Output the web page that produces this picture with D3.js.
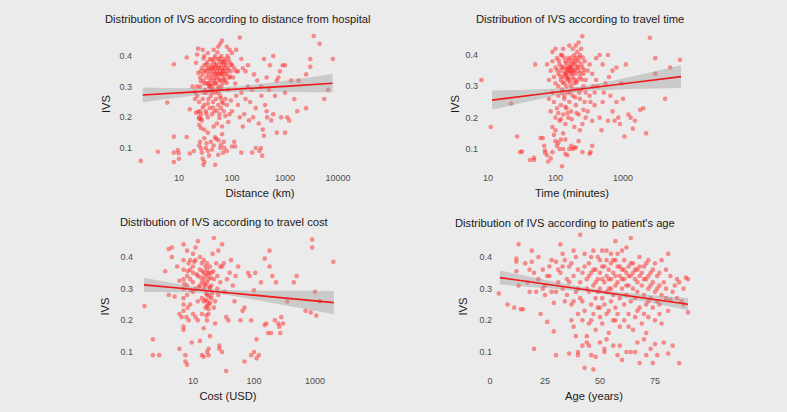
<!DOCTYPE html>
<html>
<head>
<meta charset="utf-8">
<script src="https://cdn.jsdelivr.net/npm/d3@7"></script>
<style>
  html, body { margin: 0; padding: 0; background: #ebebeb; }
  svg { display: block; font-family: 'Liberation Sans', Arial, sans-serif; }
</style>
</head>
<body>
<div id="chart"></div>
<script>
// ---- data: [x, IVS] ----
const distancePts = [
  [1.9,.058],[4,.088],[6,.248],[8,.373],[8,.137],[8,.085],[8,.054],[9.5,.093],[9.8,.083],[10,.065],
  [14,.395],[14,.136],[16,.226],[16,.082],[19,.09],[18,.3],[20,.283],[21,.378],[22,.405],[23,.424],
  [22,.3],[20,.26],[21,.215],[24,.2],[24,.195],[25,.12],[24,.108],[26,.098],[27,.085],[28,.065],
  [29,.045],[30,.055],[32,.1],[33,.115],[35,.09],[37,.075],[40,.12],[45,.108],[48,.135],[50,.13],
  [55,.078],[60,.1],[62,.11],[68,.085],[70,.12],[72,.1],[100,.105],[110,.12],[115,.105],[150,.085],
  [240,.085],[280,.1],[330,.09],[370,.075],[350,.1],
  [25,.33],[26,.35],[27,.36],[28,.34],[29,.32],[30,.37],[30,.31],[31,.29],[32,.35],[33,.33],
  [34,.38],[35,.36],[35,.31],[36,.34],[37,.30],[38,.39],[39,.35],[40,.33],[40,.37],[41,.31],
  [42,.36],[43,.34],[44,.29],[45,.38],[45,.35],[46,.32],[47,.36],[48,.40],[49,.34],[50,.31],
  [50,.37],[52,.35],[53,.33],[54,.39],[55,.36],[56,.30],[57,.34],[58,.38],[60,.35],[60,.32],
  [62,.37],[63,.40],[64,.34],[65,.36],[66,.31],[68,.38],[70,.35],[70,.33],[72,.39],[74,.36],
  [75,.32],[78,.37],[80,.34],[82,.40],[85,.36],[88,.33],[90,.38],[95,.35],[100,.37],[105,.33],
  [110,.36],[120,.35],[60,.44],[65,.45],[55,.43],[80,.43],[90,.42],[140,.46],[45,.42],[35,.41],
  [28,.42],[30,.40],[100,.41],[120,.42],[150,.39],[160,.36],[180,.35],[200,.37],
  [22,.27],[24,.25],[25,.22],[26,.21],[27,.19],[28,.26],[30,.24],[32,.22],[33,.28],[35,.20],
  [36,.26],[38,.23],[40,.27],[42,.21],[44,.25],[46,.22],[48,.28],[50,.26],[52,.18],[55,.24],
  [58,.21],[60,.27],[62,.23],[65,.25],[70,.22],[75,.26],[80,.24],[85,.29],[90,.21],[30,.16],
  [35,.15],[45,.17],[65,.17],[55,.28],[40,.29],[30,.28],[25,.30],
  [120,.27],[130,.24],[140,.2],[150,.28],[160,.17],[170,.21],[180,.26],[200,.3],[210,.19],[220,.25],
  [240,.29],[250,.2],[260,.34],[280,.23],[300,.32],[320,.18],[350,.3],[360,.27],[380,.16],[400,.39],
  [400,.14],[420,.24],[450,.33],[460,.2],[500,.29],[520,.37],[550,.19],[600,.4],[650,.27],[700,.15],
  [750,.33],[800,.35],[850,.2],[900,.37],[1000,.15],[1000,.28],[1100,.2],[1200,.19],[1300,.32],[1500,.26],
  [1700,.22],[1800,.32],[2500,.23],[2500,.34],[3000,.365],[3000,.39],[3500,.465],[4500,.44],[5500,.26],[6500,.29],
  [8000,.39],[450,.22],[600,.21],[700,.32],[1000,.37],
  [23,.345],[26,.318],[29,.392],[31,.352],[33,.372],[34,.312],[37,.358],[39,.322],[41,.388],[43,.302],
  [44,.362],[46,.392],[47,.328],[49,.372],[51,.342],[53,.412],[56,.362],[57,.322],[59,.392],[61,.342],
  [63,.298],[66,.382],[67,.352],[69,.322],[71,.372],[73,.342],[76,.382],[79,.312],[83,.352],[86,.392],
  [92,.332],[97,.372],[38,.302],[42,.282],[48,.312],[54,.292],[62,.262],[28,.232],[33,.212],[44,.232],
  [52,.222],[75,.205],[95,.255],[115,.31],[130,.35],[23,.218],[26,.195],[35,.245],[58,.198],[68,.245],
  [85,.185],[100,.22],[30,.132],[42,.095],[56,.125],[80,.09],[24,.175],[26,.165],[65,.145],[48,.045]
];

const timePts = [
  [8,.32],[11,.17],[22,.245],[27,.14],[30,.09],[32,.092],[42,.065],[48,.065],[48,.072],[50,.37],
  [60,.135],[65,.135],[68,.11],[70,.095],[70,.088],[75,.08],[78,.06],[85,.07],[90,.09],[100,.125],
  [105,.11],[110,.12],[115,.1],[120,.13],[125,.045],[130,.1],[140,.085],[150,.08],[160,.1],[170,.11],
  [180,.1],[190,.105],[200,.105],[220,.125],[250,.09],[320,.085],[330,.09],[350,.11],
  [75,.37],[80,.32],[85,.35],[90,.41],[90,.38],[95,.33],[100,.36],[100,.31],[105,.39],[110,.34],
  [110,.30],[115,.37],[120,.32],[120,.35],[125,.40],[130,.33],[130,.36],[135,.31],[140,.38],[140,.34],
  [145,.30],[150,.36],[150,.33],[155,.39],[160,.35],[160,.32],[165,.37],[170,.34],[170,.30],[175,.36],
  [180,.38],[180,.33],[185,.35],[190,.31],[195,.37],[200,.34],[200,.39],[210,.36],[210,.32],[220,.38],
  [220,.35],[230,.33],[240,.37],[250,.36],[260,.34],[270,.38],[280,.32],[300,.35],[320,.37],[350,.34],
  [180,.42],[200,.43],[220,.44],[250,.46],[240,.42],[160,.43],[130,.42],[120,.40],[100,.42],[400,.39],
  [450,.40],[500,.37],[600,.40],
  [80,.26],[85,.22],[90,.28],[95,.25],[100,.2],[105,.23],[110,.27],[115,.19],[120,.24],[125,.29],
  [130,.21],[135,.26],[140,.18],[145,.23],[150,.28],[155,.20],[160,.25],[170,.22],[180,.27],[190,.17],
  [200,.24],[210,.29],[220,.21],[230,.26],[250,.18],[270,.25],[300,.22],[320,.27],[350,.19],[380,.24],
  [100,.16],[130,.15],[90,.17],[240,.29],[260,.3],[280,.28],
  [400,.32],[420,.3],[450,.2],[480,.16],[500,.25],[520,.28],[550,.31],[600,.19],[620,.33],[650,.27],
  [700,.22],[750,.19],[800,.25],[850,.2],[900,.18],[950,.31],[1000,.26],[1050,.14],[1100,.37],[1200,.21],
  [1300,.2],[1400,.165],[1500,.19],[1800,.225],[2000,.23],[2200,.15],[2500,.455],[3000,.39],[3000,.34],[4200,.26],
  [5000,.36],[7000,.385],[700,.35],[800,.36],
  [105,.352],[112,.382],[118,.332],[123,.362],[128,.312],[133,.392],[137,.342],[143,.372],[147,.322],[153,.352],
  [158,.382],[163,.312],[168,.362],[173,.392],[178,.342],[183,.372],[188,.322],[193,.352],[198,.382],[205,.312],
  [215,.362],[225,.392],[235,.342],[245,.322],[255,.392],[265,.352],[140,.355],[150,.345],[160,.36],[145,.335],
  [155,.325],[170,.35],[190,.40],[210,.41],[230,.40],[125,.28],[135,.27],[165,.28],[185,.29],[195,.265],
  [225,.28],[110,.215],[140,.235],[175,.195],[205,.215],[260,.225],[120,.195],[150,.215],[95,.145],[140,.13],
  [230,.16],[280,.2],[330,.25],[360,.3],[380,.28]
];

const costPts = [
  [1.6,.245],[2.2,.14],[2.2,.09],[2.8,.09],[3.5,.355],[4,.425],[4,.28],[4.5,.43],[4.5,.4],[5,.275],
  [5.5,.37],[6,.325],[6,.22],[6,.11],[6.5,.21],
  [7,.44],[7,.39],[7,.36],[7,.33],[7,.30],[7,.27],[7,.25],[7,.23],[7,.18],[7,.17],
  [7.5,.09],[7.5,.07],[8,.06],[8,.42],[8,.34],[8,.31],[8,.28],[8.5,.38],[8.5,.2],[9,.36],
  [9,.33],[9,.25],[9.5,.13],[10,.41],[10,.37],[10,.35],[10,.32],[10,.22],[10,.29],[11,.39],
  [11,.3],[11,.21],[12,.45],[12,.34],[12,.26],[13,.135],[13,.36],[13,.4],[14,.38],[14,.32],
  [14,.27],[14,.09],[15,.39],[15,.35],[15,.33],[15,.3],[15,.26],[15,.175],[15,.085],[16,.37],
  [16,.34],[16,.31],[16,.24],[17,.38],[17,.36],[17,.32],[17,.28],[17,.26],[17,.2],[17,.1],
  [18,.33],[18,.35],[18,.25],[18,.22],[18,.11],[18,.09],[19,.37],[19,.3],[19,.15],[20,.35],
  [20,.31],[20,.27],[21,.41],[22,.46],[22,.33],[23,.26],[23,.19],[24,.38],[25,.3],[26,.42],
  [27,.12],[27,.11],[28,.32],[30,.44],[30,.37],[30,.1],[32,.38],[33,.29],[35,.21],[35,.04],
  [38,.2],[40,.35],[45,.31],[48,.26],[50,.34],[55,.37],[60,.2],[65,.23],[70,.24],[70,.07],
  [80,.35],[85,.34],[90,.09],[90,.2],[100,.1],[100,.295],[105,.35],[110,.14],[110,.08],[120,.09],
  [130,.32],[150,.395],[150,.185],[160,.19],[170,.16],[180,.42],[180,.37],[190,.16],[200,.34],[220,.2],
  [230,.32],[250,.19],[260,.18],[270,.16],[280,.21],[300,.19],[350,.26],[450,.32],[500,.34],[700,.23],
  [850,.225],[900,.455],[900,.43],[1000,.29],[1050,.215],[1200,.26],[2000,.385],
  [7.2,.315],[8.2,.355],[9.2,.295],[10.5,.385],[11.5,.345],[12.5,.305],[13.5,.335],[14.5,.355],[15.5,.315],[16.5,.285],
  [17.5,.345],[18.5,.305],[19.5,.335],[20.5,.285],[21.5,.355],[16,.265],[17,.245],[18,.235],[19,.255],[16.5,.215],
  [18.5,.275],[12,.2],[14,.22],[22,.24],[25,.34],[28,.37],[36,.33],[42,.39],[26,.28],[13,.31],
  [9,.39],[11,.43],[7.8,.21],[8.2,.24]
];

const agePts = [
  [4,.285],[8,.25],[11,.24],[12,.395],[12,.385],[12,.355],[13,.31],[13,.44],[14,.235],[15,.235],
  [17,.32],[18,.36],[18,.29],[19,.42],[19,.385],[20,.11],[20,.35],[21,.29],[22,.33],[23,.22],
  [24,.36],[25,.31],[25,.28],[26,.195],[27,.34],[27,.37],[28,.39],[29,.255],[29,.165],[30,.385],
  [30,.09],[31,.32],[32,.44],[32,.35],[33,.3],[34,.39],[35,.33],[35,.28],[36,.37],[36,.095],
  [37,.25],[37,.2],[38,.42],[38,.34],[38,.18],[39,.4],[39,.29],[39,.15],[40,.1],[40,.09],
  [40,.3],[40,.36],[41,.47],[41,.32],[42,.26],[42,.2],[42,.12],[43,.37],[43,.23],[43,.05],
  [44,.33],[44,.15],[44,.13],[45,.38],[45,.29],[45,.19],[46,.35],[46,.25],[46,.09],[47,.42],
  [47,.31],[47,.22],[47,.045],[48,.36],[48,.27],[48,.17],[48,.085],[49,.4],[49,.33],[49,.24],
  [50,.35],[50,.3],[50,.21],[50,.13],[51,.42],[51,.37],[51,.27],[51,.19],[52,.32],[52,.25],
  [52,.11],[52,.1],[53,.39],[53,.34],[53,.29],[53,.22],[54,.36],[54,.3],[54,.16],[55,.41],
  [55,.38],[55,.33],[55,.26],[56,.35],[56,.28],[56,.2],[56,.12],[57,.45],[57,.39],[57,.31],
  [57,.24],[58,.37],[58,.32],[58,.22],[58,.09],[59,.34],[59,.27],[59,.18],[60,.42],[60,.36],
  [60,.3],[60,.075],[61,.39],[61,.33],[61,.25],[61,.2],[62,.35],[62,.28],[62,.1],[63,.37],
  [63,.31],[63,.22],[64,.46],[64,.34],[64,.26],[64,.1],[65,.38],[65,.3],[65,.17],[66,.33],
  [66,.27],[66,.21],[67,.36],[67,.29],[67,.13],[68,.4],[68,.34],[68,.24],[68,.065],[69,.31],
  [69,.19],[70,.37],[70,.28],[70,.22],[70,.14],[71,.33],[71,.25],[71,.16],[72,.39],[72,.3],
  [72,.21],[73,.35],[73,.27],[73,.11],[74,.32],[74,.24],[74,.065],[75,.38],[75,.29],[75,.2],
  [75,.125],[76,.34],[76,.26],[76,.09],[77,.31],[77,.22],[78,.39],[78,.28],[78,.19],[79,.13],
  [80,.36],[80,.3],[81,.41],[81,.23],[81,.095],[82,.34],[82,.265],[83,.12],[84,.31],[85,.33],
  [85,.27],[86,.065],[87,.26],[88,.3],[89,.335],[90,.33],[90,.225],
  [16,.38],[22,.4],[26,.34],[28,.29],[31,.36],[33,.41],[34,.26],[36,.32],[37,.38],[41,.27],
  [42,.35],[43,.41],[44,.3],[45,.34],[46,.4],[47,.36],[48,.32],[49,.29],[50,.39],[51,.33],
  [52,.37],[53,.42],[54,.33],[55,.3],[56,.39],[57,.34],[58,.41],[59,.37],[60,.33],[61,.36],
  [62,.31],[62,.43],[63,.34],[64,.38],[65,.35],[66,.36],[67,.32],[68,.37],[69,.35],[70,.33],
  [71,.38],[72,.34],[73,.31],[74,.36],[76,.3],[77,.35],[79,.32],[80,.27],[83,.29],[86,.32],
  [88,.25],[54,.23],[57,.2],[63,.18],[67,.23],[72,.26],[77,.25],[50,.24],[46,.2],[40,.22],
  [38,.26],[59,.12],[66,.1],[71,.09],[45,.12],[53,.14],[30,.29],[24,.3],[33,.37]
];

// fitted lines with 95% band: [x, fit, lower, upper]
const distanceFit = [[2.07,.273,.249,.297],[20,.283,.271,.295],[120,.292,.283,.301],[1000,.301,.283,.319],[7900,.311,.281,.341]];
const timeFit = [[11.5,.256,.225,.287],[50,.273,.256,.290],[224,.2906,.283,.299],[1260,.3107,.2915,.330],[7240,.331,.295,.367]];
const costFit = [[1.57,.312,.2895,.3345],[6.3,.3012,.2888,.3136],[22.4,.2912,.2842,.2982],[200,.2741,.2551,.2931],[2040,.256,.219,.293]];
const ageFit = [[4.5,.335,.313,.357],[25,.3149,.3018,.328],[50,.2903,.2843,.2963],[70,.2707,.2597,.2817],[90,.251,.2315,.2705]];

const logTicks = [10, 100, 1000, 10000];
const ageTicks = [0, 25, 50, 75];
const ivsTicks = [0.1, 0.2, 0.3, 0.4];

const titles = [
  'Distribution of IVS according to distance from hospital',
  'Distribution of IVS according to travel time',
  'Distribution of IVS according to travel cost',
  "Distribution of IVS according to patient's age"
];
const xTitles = ['Distance (km)', 'Time (minutes)', 'Cost (USD)', 'Age (years)'];

const width = 787, height = 412;
const svg = d3.select('#chart').append('svg')
  .attr('width', width).attr('height', height);
svg.append('rect').attr('width', width).attr('height', height).attr('fill', '#ebebeb');

const panels = [
  { pts: distancePts, fit: distanceFit, title: titles[0], xTitle: xTitles[0],
    x: d3.scaleLog().domain([10, 10000]).range([179, 338]), ticks: logTicks,
    y: d3.scaleLinear().domain([0.1, 0.4]).range([148, 56]),
    titleX: 105, titleY: 23, yLabX: 132, ivsX: 106, xTickY: 181, xTitleX: 260, xTitleY: 197 },
  { pts: timePts, fit: timeFit, title: titles[1], xTitle: xTitles[1],
    x: d3.scaleLog().domain([10, 1000]).range([488, 623]), ticks: logTicks.slice(0, 3),
    y: d3.scaleLinear().domain([0.1, 0.4]).range([149, 55]),
    titleX: 476, titleY: 23, yLabX: 478, ivsX: 455, xTickY: 181, xTitleX: 572, xTitleY: 197 },
  { pts: costPts, fit: costFit, title: titles[2], xTitle: xTitles[2],
    x: d3.scaleLog().domain([10, 1000]).range([193, 315]), ticks: logTicks.slice(0, 3),
    y: d3.scaleLinear().domain([0.1, 0.4]).range([352, 257]),
    titleX: 120, titleY: 226, yLabX: 133, ivsX: 105, xTickY: 384, xTitleX: 228, xTitleY: 400 },
  { pts: agePts, fit: ageFit, title: titles[3], xTitle: xTitles[3],
    x: d3.scaleLinear().domain([0, 75]).range([490, 655]), ticks: ageTicks,
    y: d3.scaleLinear().domain([0.1, 0.4]).range([352, 257]),
    titleX: 455, titleY: 227, yLabX: 492, ivsX: 463, xTickY: 384, xTitleX: 594, xTitleY: 400 }
];

panels.forEach((p) => {
  const g = svg.append('g');
  const y0 = p.y(0.1), y1 = p.y(0.4);

  g.append('text')
    .attr('x', p.titleX).attr('y', p.titleY)
    .attr('font-size', 11.2).attr('fill', '#1a1a1a')
    .text(p.title);

  // y tick labels
  g.selectAll('.ylab').data(ivsTicks).enter().append('text')
    .attr('x', p.yLabX).attr('y', (d) => p.y(d))
    .attr('dy', '0.35em').attr('text-anchor', 'end')
    .attr('font-size', 9).attr('fill', '#4d4d4d')
    .text((d) => d3.format('.1f')(d));

  g.append('text')
    .attr('transform', `translate(${p.ivsX},${(y0 + y1) / 2 + 2}) rotate(-90)`)
    .attr('dy', '0.35em').attr('text-anchor', 'middle')
    .attr('font-size', 11.2).attr('fill', '#1a1a1a')
    .text('IVS');

  // x tick labels
  g.selectAll('.xlab').data(p.ticks).enter().append('text')
    .attr('x', (d) => p.x(d)).attr('y', p.xTickY)
    .attr('text-anchor', 'middle')
    .attr('font-size', 9).attr('fill', '#4d4d4d')
    .text((d) => d);

  g.append('text')
    .attr('x', p.xTitleX)
    .attr('y', p.xTitleY).attr('text-anchor', 'middle')
    .attr('font-size', 11.2).attr('fill', '#1a1a1a')
    .text(p.xTitle);

  g.selectAll('.pt').data(p.pts).enter().append('circle')
    .attr('cx', (d) => p.x(d[0])).attr('cy', (d) => p.y(d[1]))
    .attr('r', 2.3)
    .attr('fill', '#ff2a2a').attr('fill-opacity', 0.5);

  const band = d3.area()
    .x((d) => p.x(d[0]))
    .y0((d) => p.y(d[2]))
    .y1((d) => p.y(d[3]))
    .curve(d3.curveMonotoneX);
  g.append('path').datum(p.fit)
    .attr('d', band)
    .attr('fill', '#999999').attr('fill-opacity', 0.4);

  const line = d3.line()
    .x((d) => p.x(d[0]))
    .y((d) => p.y(d[1]));
  g.append('path').datum(p.fit)
    .attr('d', line)
    .attr('fill', 'none').attr('stroke', '#f01818').attr('stroke-width', 1.6);
});
</script>
</body>
</html>
